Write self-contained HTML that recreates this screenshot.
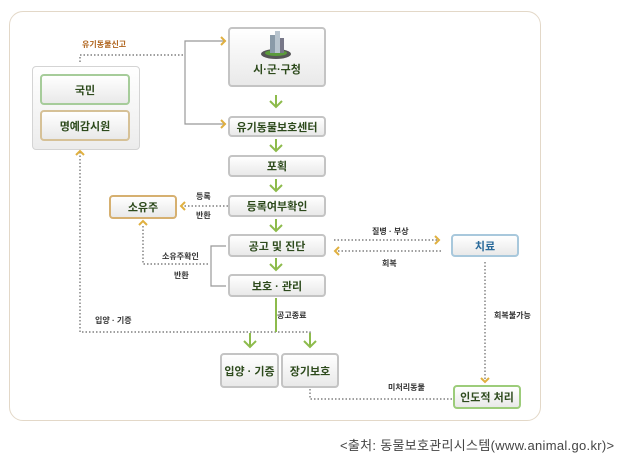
<!DOCTYPE html>
<html><head><meta charset="utf-8"><style>
body{margin:0;width:633px;height:459px;background:#fff;position:relative;overflow:hidden;font-family:"Liberation Sans","Noto Sans CJK KR",sans-serif}
.p{position:absolute}
.b{position:absolute;box-sizing:border-box;border:2px solid #c4c4c4;border-radius:4px;background:linear-gradient(#fff,#e9e9e9);color:#2d4a1c;font-weight:bold;font-size:11px;display:flex;align-items:center;justify-content:center}
.l{position:absolute;font-size:8px;color:#333;font-weight:bold;white-space:nowrap}
</style></head><body>
<div class="p" style="left:9px;top:11px;width:532px;height:410px;border:1px solid #e3d8c8;border-radius:14px;box-sizing:border-box"></div>
<div class="p" style="left:32px;top:66px;width:106px;height:82px;border:1px solid #d4d4d4;border-radius:4px;background:linear-gradient(#fff,#ececec)"></div>
<div class="b" style="left:40px;top:74px;width:90px;height:31px;border-color:#a6cc9a">국민</div>
<div class="b" style="left:40px;top:110px;width:90px;height:31px;border-color:#d6c197">명예감시원</div>
<div class="b" style="left:228px;top:27px;width:98px;height:60px;align-items:flex-end;padding-bottom:8px">시·군·구청</div>
<svg class="p" style="left:258px;top:29px" width="36" height="32"><ellipse cx="18" cy="25" rx="15" ry="5" fill="#555"/><ellipse cx="18" cy="24" rx="11" ry="3" fill="#5a9a3a"/><rect x="12" y="6" width="5" height="18" fill="#8a9aa8"/><rect x="17" y="2" width="5" height="22" fill="#b8c4ce"/><rect x="22" y="9" width="4" height="15" fill="#778"/></svg>
<div class="b" style="left:228px;top:116px;width:98px;height:21px">유기동물보호센터</div>
<div class="b" style="left:228px;top:155px;width:98px;height:22px">포획</div>
<div class="b" style="left:228px;top:195px;width:98px;height:22px">등록여부확인</div>
<div class="b" style="left:228px;top:234px;width:98px;height:23px">공고 및 진단</div>
<div class="b" style="left:228px;top:274px;width:98px;height:23px">보호 · 관리</div>
<div class="b" style="left:220px;top:353px;width:59px;height:35px">입양 · 기증</div>
<div class="b" style="left:281px;top:353px;width:58px;height:35px">장기보호</div>
<div class="b" style="left:451px;top:234px;width:68px;height:23px;border-color:#a8c8dc;color:#2a6a9a">치료</div>
<div class="b" style="left:453px;top:385px;width:68px;height:24px;border-color:#9ccc7a">인도적 처리</div>
<div class="b" style="left:109px;top:195px;width:68px;height:24px;border-color:#d6b070">소유주</div>
<svg class="p" style="left:0;top:0" width="633" height="459" fill="none">
<g stroke="#666" stroke-width="1.2" stroke-dasharray="1.5,2">
<path d="M80 62V55H183"/><path d="M228 206H182"/><path d="M143 226V264H210"/><path d="M80 152V332H310V345"/><path d="M334 240H438"/><path d="M441 251H336"/><path d="M485 262V380"/><path d="M310 389V399H452"/>
</g>
<g stroke="#999" stroke-width="1.2"><path d="M226 41H185V124H226"/><path d="M226 246H211V286H226"/></g>
<g stroke="#e0b040" stroke-width="2"><path d="M221 37l4 4-4 4M221 120l4 4-4 4"/><path d="M76 155l4-4 4 4M139 225l4-4 4 4M185 202l-4 4 4 4M435 236l4 4-4 4M339 247l-4 4 4 4M481 378l4 4 4-4"/></g>
<g stroke="#8dbb4c" stroke-width="2"><path d="M276 95v12M270 101l6 6 6-6M276 139v12M270 145l6 6 6-6M276 179v12M270 185l6 6 6-6M276 219v12M270 225l6 6 6-6M276 258v12M270 264l6 6 6-6"/><path d="M276 298v34"/><path d="M250 333v14M244 341l6 6 6-6M310 333v14M304 341l6 6 6-6"/></g>
</svg>
<div class="l" style="left:82px;top:39px;color:#b0651e">유기동물신고</div>
<div class="l" style="left:196px;top:191px">등록</div>
<div class="l" style="left:196px;top:210px">반환</div>
<div class="l" style="left:162px;top:251px">소유주확인</div>
<div class="l" style="left:174px;top:270px">반환</div>
<div class="l" style="left:277px;top:310px">공고종료</div>
<div class="l" style="left:95px;top:315px">입양 · 기증</div>
<div class="l" style="left:372px;top:226px">질병 · 부상</div>
<div class="l" style="left:382px;top:258px">회복</div>
<div class="l" style="left:494px;top:310px">회복불가능</div>
<div class="l" style="left:388px;top:382px">미처리동물</div>
<div class="p" style="left:340px;top:435px;font-size:13px;color:#444;letter-spacing:0.3px;white-space:nowrap">&lt;출처: 동물보호관리시스템(www.animal.go.kr)&gt;</div>
</body></html>
